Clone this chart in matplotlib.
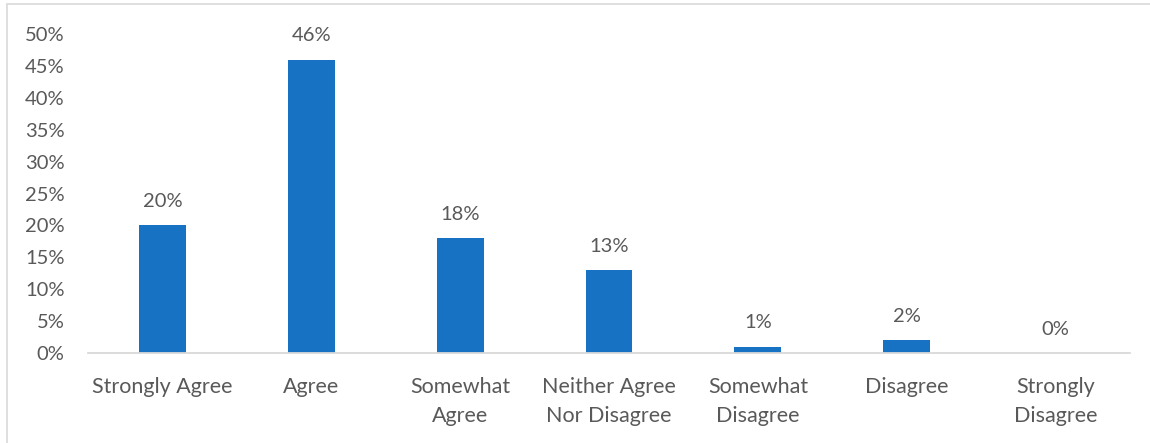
import matplotlib
matplotlib.use("Agg")
import matplotlib.pyplot as plt
from matplotlib.patches import Rectangle

categories = ["Strongly Agree", "Agree", "Somewhat\nAgree", "Neither Agree\nNor Disagree",
              "Somewhat\nDisagree", "Disagree", "Strongly\nDisagree"]
values = [20, 46, 18, 13, 1, 2, 0]
yticks = [0, 5, 10, 15, 20, 25, 30, 35, 40, 45, 50]

plt.rcParams["font.family"] = ["Lato", "DejaVu Sans"]
text_color = "#595959"
bar_color = "#1872C4"
fs = 14.5
fs_cat = 15.5

fig = plt.figure(figsize=(11.5, 4.43), dpi=100)
fig.patches.append(Rectangle((7 / 1150, -0.1), 1.2, 1 - 4 / 443 + 0.1,
                             transform=fig.transFigure, fill=False,
                             edgecolor="#D9D9D9", linewidth=1.2))
ax = fig.add_axes([88 / 1150, 90 / 443, (1130 - 88) / 1150, (353 - 34) / 443])

x = list(range(len(categories)))
ax.bar(x, values, width=0.315, color=bar_color, zorder=2)
for xi, v in zip(x, values):
    ax.annotate(f"{v}%", (xi, v), xytext=(0, 11), textcoords="offset points",
                ha="center", va="bottom", fontsize=fs, color=text_color,
                annotation_clip=False)

ax.set_xlim(-0.5, len(categories) - 0.5)
ax.set_ylim(0, 50)
ax.set_yticks(yticks)
ax.set_yticklabels([f"{t}%" for t in yticks])
ax.set_xticks(x)
ax.set_xticklabels(categories, linespacing=1.6)
ax.tick_params(axis="both", length=0, labelcolor=text_color)
ax.tick_params(axis="y", pad=17, labelsize=fs)
ax.tick_params(axis="x", pad=17, labelsize=fs_cat)
for side in ["top", "right", "left"]:
    ax.spines[side].set_visible(False)
ax.spines["bottom"].set_color("#D9D9D9")
ax.spines["bottom"].set_linewidth(1.3)

fig.savefig("out.png", dpi=100)
